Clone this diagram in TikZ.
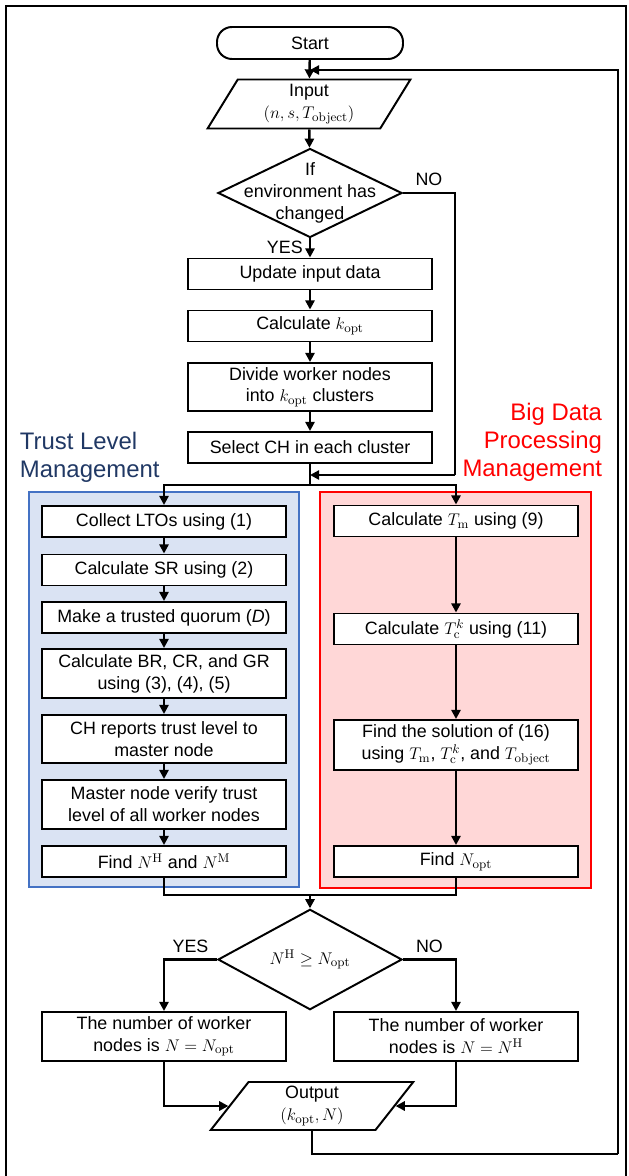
\documentclass[tikz,border=0pt]{standalone}
\usepackage{amsmath}
\usepackage[no-math]{fontspec}
\setmainfont{Liberation Sans}
\usetikzlibrary{shapes.geometric,arrows.meta}

\newlength{\unitpx}
\setlength{\unitpx}{0.025cm}

\definecolor{tlmfill}{HTML}{DAE3F3}
\definecolor{tlmedge}{HTML}{4472C4}
\definecolor{tlmtext}{HTML}{203864}
\definecolor{bdpfill}{HTML}{FFD7D7}
\definecolor{bdpedge}{HTML}{FF0000}

\tikzset{
  proc/.style={draw,line width=1.4pt,fill=white,minimum width=244\unitpx,minimum height=31\unitpx,inner sep=1pt,align=center},
  term/.style={proc,rounded corners=15\unitpx,minimum width=186\unitpx,minimum height=32\unitpx},
  io/.style={draw,line width=1.4pt,fill=white,trapezium,trapezium left angle=65,trapezium right angle=115,trapezium stretches=true,minimum width=204\unitpx,minimum height=49\unitpx,inner sep=1pt,align=center},
  decision/.style={draw,line width=1.4pt,fill=white,diamond,minimum width=184\unitpx,minimum height=89\unitpx,inner sep=0pt},
  wire/.style={line width=1.7pt},
  flow/.style={wire,-{Triangle[length=2.3mm,width=2.3mm]}},
  grouptitle/.style={font=\fontsize{17}{19.8}\selectfont}
}

\begin{document}
\begin{tikzpicture}[x=0.025cm,y=-0.025cm,font=\fontsize{12.7}{15.6}\selectfont]
  \useasboundingbox (0,0) rectangle (629,1176);
  \draw[line width=1.4pt] (6,1176) -- (6,6) -- (626,6) -- (626,1176);

  % group areas
  \draw[tlmedge,fill=tlmfill,line width=1pt] (29,492) rectangle (299,887);
  \draw[bdpedge,fill=bdpfill,line width=1pt] (320,492) rectangle (591,888);
  \node[grouptitle,text=tlmtext,anchor=west,align=left] (tlmtitle) at (15,457) {Trust Level\\Management};
  \node[grouptitle,text=bdpedge,anchor=east,align=right] (bdptitle) at (607,442) {Big Data\\Processing\\Management};

  % main column
  \node[term] (start) at (310,43) {Start};
  \node[io] (input) at (309,104) {Input\\$(n,s,T_{\mathrm{object}})$};
  \node[decision] (chg) at (310,193) {};
  \node[align=center] (chgtext) at (chg.center) {If\\environment has\\changed};
  \node[proc] (upd) at (310,274) {Update input data};
  \node[proc] (kopt) at (310,326) {Calculate $k_{\mathrm{opt}}$};
  \node[proc,minimum height=48\unitpx] (divide) at (310,387) {Divide worker nodes\\into $k_{\mathrm{opt}}$ clusters};
  \node[proc] (selch) at (310,447.5) {Select CH in each cluster};

  % trust level column
  \node[proc] (collect) at (164,521.5) {Collect LTOs using (1)};
  \node[proc] (sr) at (164,570) {Calculate SR using (2)};
  \node[proc] (quorum) at (164,617.5) {Make a trusted quorum (\textit{D})};
  \node[proc,minimum height=49\unitpx] (rates) at (164,673.5) {Calculate BR, CR, and GR\\using (3), (4), (5)};
  \node[proc,minimum height=48\unitpx] (report) at (164,739) {CH reports trust level to\\master node};
  \node[proc,minimum height=49\unitpx] (verify) at (164,804.5) {Master node verify trust\\level of all worker nodes};
  \node[proc] (findnh) at (164,861.5) {Find $N^{\mathrm{H}}$ and $N^{\mathrm{M}}$};

  % big data column
  \node[proc] (tm) at (456,521) {Calculate $T_{\mathrm{m}}$ using (9)};
  \node[proc] (tc) at (456,629) {Calculate $T_{\mathrm{c}}^{k}$ using (11)};
  \node[proc,minimum height=50\unitpx] (solve) at (456,745) {Find the solution of (16)\\using $T_{\mathrm{m}}$, $T_{\mathrm{c}}^{k}$, and $T_{\mathrm{object}}$};
  \node[proc] (nopt) at (456,861.5) {Find $N_{\mathrm{opt}}$};

  % result
  \node[decision] (cmp) at (310,959.5) {$N^{\mathrm{H}}\geq N_{\mathrm{opt}}$};
  \node[proc,minimum height=49\unitpx] (resyes) at (164,1036.5) {The number of worker\\nodes is $N=N_{\mathrm{opt}}$};
  \node[proc,minimum height=49\unitpx] (resno) at (456,1036.5) {The number of worker\\nodes is $N=N^{\mathrm{H}}$};
  \node[io,minimum width=203\unitpx,minimum height=48\unitpx] (output) at (312,1106) {Output\\$(k_{\mathrm{opt}},N)$};

  \coordinate (loopin) at (310,70);
  \coordinate (loopcorner) at (618,1154);
  \coordinate (nobend) at (455,475);
  \coordinate (joinno) at (310,475);
  \coordinate (split) at (310,485);
  \coordinate (merge) at (310,895);

  % connectors
  \draw[flow] (start) -- (input);
  \draw[flow] (input) -- (chg);
  \draw[flow] (chg) -- (upd) node[pos=0.45,left=1pt] {YES};
  \draw[flow] (upd) -- (kopt);
  \draw[flow] (kopt) -- (divide);
  \draw[flow] (divide) -- (selch);
  \draw[wire] (chg.east) -| (nobend) node[pos=0.25,above=1pt] {NO};
  \draw[flow] (nobend) -- (joinno);
  \draw[wire] (selch) -- (split);
  \draw[flow] (split) -| (collect);
  \draw[flow] (split) -| (tm);
  \draw[flow] (collect) -- (sr);
  \draw[flow] (sr) -- (quorum);
  \draw[flow] (quorum) -- (rates);
  \draw[flow] (rates) -- (report);
  \draw[flow] (report) -- (verify);
  \draw[flow] (verify) -- (findnh);
  \draw[flow] (tm) -- (tc);
  \draw[flow] (tc) -- (solve);
  \draw[flow] (solve) -- (nopt);
  \draw[wire] (findnh) |- (merge);
  \draw[wire] (nopt) |- (merge);
  \draw[flow] (merge) -- (cmp);
  \draw[flow] (cmp.west) -| (resyes) node[pos=0.25,above=1pt] {YES};
  \draw[flow] (cmp.east) -| (resno) node[pos=0.25,above=1pt] {NO};
  \draw[flow] (resyes) |- (output.west);
  \draw[flow] (resno) |- (output.east);
  \draw[wire] (output.south) |- (loopcorner);
  \draw[flow] (loopcorner) |- (loopin);
\end{tikzpicture}
\end{document}
